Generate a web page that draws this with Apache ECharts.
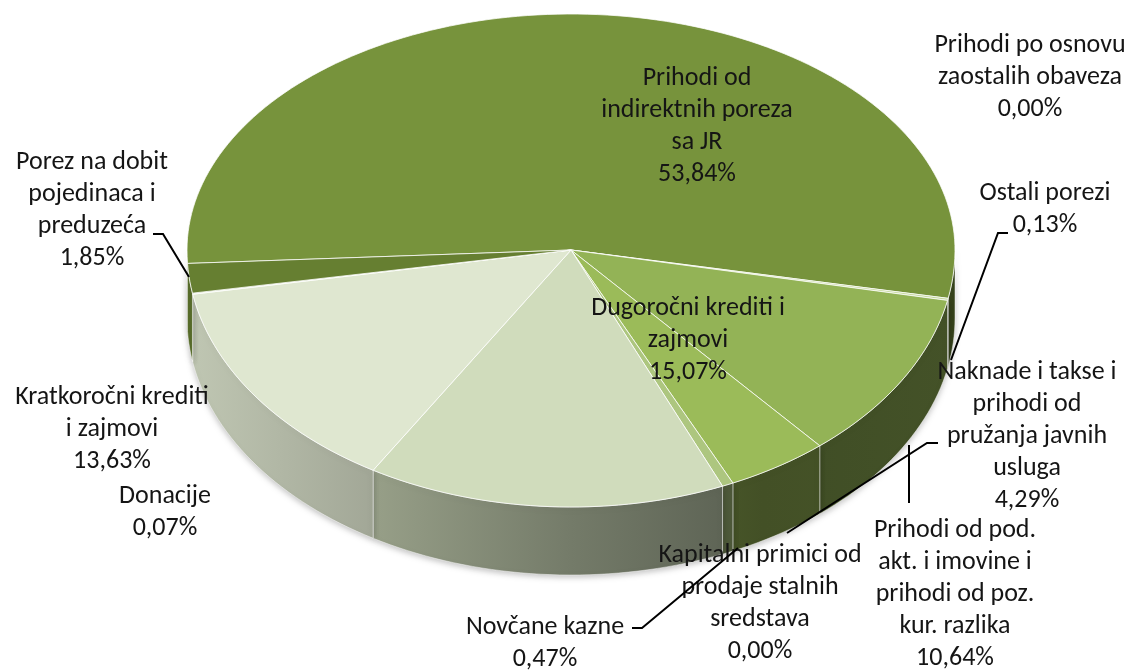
<!DOCTYPE html>
<html>
<head>
<meta charset="utf-8">
<script src="https://cdn.jsdelivr.net/npm/echarts@6.0.0/dist/echarts.min.js"></script>
<style>
  body { margin: 0; background: #fff; }
  #main { width: 1134px; height: 671px; }
</style>
</head>
<body>
<div id="main"></div>
<script>
// slices in clockwise order, starting at the left edge of the big slice
const categories = [
  "Prihodi od\nindirektnih poreza\nsa JR",
  "Prihodi po osnovu\nzaostalih obaveza",
  "Ostali porezi",
  "Prihodi od pod.\nakt. i imovine i\nprihodi od poz.\nkur. razlika",
  "Naknade i takse i\nprihodi od\npružanja javnih\nusluga",
  "Kapitalni primici od\nprodaje stalnih\nsredstava",
  "Novčane kazne",
  "Dugoročni krediti i\nzajmovi",
  "Kratkoročni krediti\ni zajmovi",
  "Donacije",
  "Porez na dobit\npojedinaca i\npreduzeća"
];
const shares = [53.84, 0.00, 0.13, 10.64, 4.29, 0.00, 0.47, 15.07, 13.63, 0.07, 1.85];

const sliceColors = ["#77933c", "#8aa84a", "#c3d69b", "#93b356", "#9bbb59", "#b5cc8a",
  "#adc67f", "#d0dcbc", "#dfe7d0", "#e6eddb", "#667f31"];

// label block (top centre) and leader lines
const labelAt = [[697, 62], [1030, 29], [1045, 177], [955, 514], [1027, 356], [760, 539],
  [545, 611], [688, 292], [112, 381], [165, 480], [92, 146]];
const leaders = {
  2: [[1008, 233], [998, 233], [951, 360]],
  3: [[909, 445], [909, 503]],
  4: [[938, 443], [927, 443], [787, 533]],
  6: [[632, 628], [642, 628], [738, 548]],
  10: [[153, 234], [163, 234], [189, 277]]
};

// 3D pie geometry
const CX = 571, CY = 250, RX = 384, RY_TOP = 236, RY_BOT = 257, H = 68;
const START = 177; // screen degrees, clockwise from 3 o'clock

const total = shares.reduce((a, b) => a + b, 0);
const cum = [];
shares.reduce((acc, v, i) => { cum[i] = acc; return acc + v; }, 0);

function pt(deg, dy) {
  const r = deg * Math.PI / 180;
  const s = Math.sin(r);
  return [CX + RX * Math.cos(r), CY + (s < 0 ? RY_TOP : RY_BOT) * s + (dy || 0)];
}
function arc(a, b, dy) {
  const n = Math.max(2, Math.ceil((b - a) / 1.5));
  const out = [];
  for (let k = 0; k <= n; k++) out.push(pt(a + (b - a) * k / n, dy));
  return out;
}
function shade(hex, f) {
  const n = parseInt(hex.slice(1), 16);
  const c = [(n >> 16) & 255, (n >> 8) & 255, n & 255].map(x => Math.round(x * f));
  return "rgb(" + c.join(",") + ")";
}
function wallFill(hex) {
  return new echarts.graphic.LinearGradient(CX - RX, 0, CX + RX, 0, [
    { offset: 0, color: shade(hex, 0.86) },
    { offset: 0.25, color: shade(hex, 0.72) },
    { offset: 0.5, color: shade(hex, 0.56) },
    { offset: 0.75, color: shade(hex, 0.43) },
    { offset: 1, color: shade(hex, 0.46) }
  ], true);
}
function fmt(v) {
  return v.toFixed(2).replace(".", ",") + "%";
}

function renderItem(params, api) {
  const i = params.dataIndex;
  const v = api.value(0);
  const a0 = START + cum[i] / total * 360;
  const a1 = a0 + v / total * 360;
  const color = sliceColors[i];
  const children = [];
  if (v > 0) {
    [[0, 180], [360, 540]].forEach(function (r) {
      const s = Math.max(a0, r[0]), e = Math.min(a1, r[1]);
      if (e > s) {
        const pts = arc(s, e, 0).concat(arc(s, e, H).reverse());
        children.push({
          type: "polygon",
          z2: 1,
          shape: { points: pts },
          style: {
            fill: wallFill(color),
            stroke: "rgba(255,255,255,0.45)",
            lineWidth: 1,
            shadowBlur: 6,
            shadowColor: "rgba(0,0,0,0.25)",
            shadowOffsetY: 2
          }
        });
      }
    });
    children.push({
      type: "polygon",
      z2: 5,
      shape: { points: [[CX, CY]].concat(arc(a0, a1, 0)) },
      style: { fill: color, stroke: "rgba(255,255,255,0.75)", lineWidth: 1 }
    });
  }
  children.push({
    type: "text",
    z2: 100,
    style: {
      text: categories[i] + "\n" + fmt(v),
      x: labelAt[i][0],
      y: labelAt[i][1],
      align: "center",
      verticalAlign: "top",
      font: '26px Carlito, Lato, sans-serif',
      lineHeight: 32,
      fill: "#151515"
    }
  });
  if (leaders[i]) {
    children.push({
      type: "polyline",
      z2: 101,
      shape: { points: leaders[i] },
      style: { stroke: "#000", lineWidth: 2, fill: null }
    });
  }
  return { type: "group", children: children };
}

var myChart = echarts.init(document.getElementById("main"));
var option = {
  animation: false,
  series: [
    {
      type: "custom",
      coordinateSystem: "none",
      renderItem: renderItem,
      data: shares.map(v => [v])
    }
  ]
};
option && myChart.setOption(option);
</script>
</body>
</html>
